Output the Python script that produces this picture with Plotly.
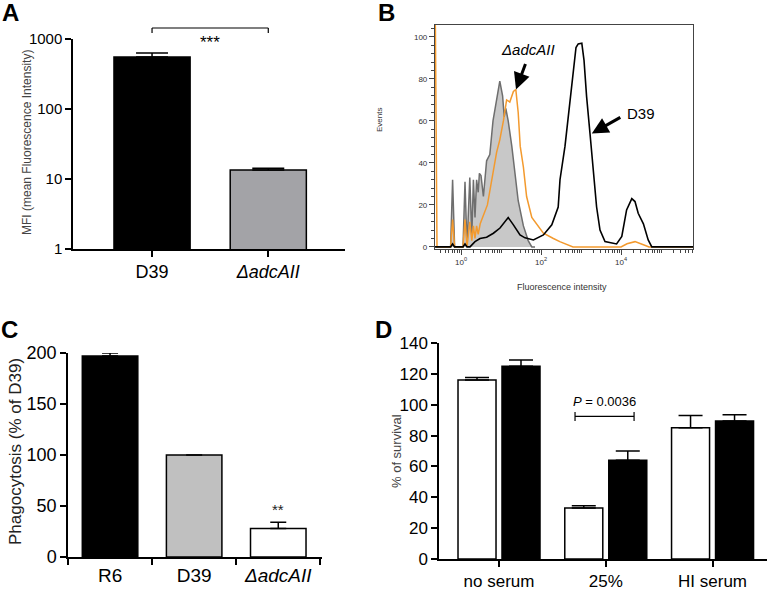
import plotly.graph_objects as go

W, H = 769, 592
FONT = "Arial, Liberation Sans, sans-serif"

# ---------------- Panel A data ----------------
a_categories = ["D39", "ΔadcAII"]
a_ticktext = ["D39", "<i>ΔadcAII</i>"]
a_values = [553, 13.4]
a_errors = [78, 0.8]
a_colors = ["#000000", "#a3a3a7"]

# ---------------- Panel B data (flow cytometry histograms) ----------------
# x in log10(fluorescence), y in events
b_ctrl_logx = [-0.62, -0.26, -0.21, -0.16, 0.05, 0.10, 0.15, 0.22, 0.27, 0.31, 0.35, 0.39, 0.43,
               0.46, 0.50, 0.56, 0.64, 0.72, 0.80, 0.87, 0.97, 1.04, 1.08, 1.12, 1.18, 1.27, 1.35,
               1.43, 1.56, 1.68, 1.77, 1.85]
b_ctrl_y = [0, 0, 32, 0, 0, 31, 0, 33, 5, 32, 14, 32, 26,
            35, 34, 24, 41, 44, 60, 68, 79, 72, 62, 66, 60, 48, 35,
            22, 10, 3, 0, 0]

b_mut_logx = [-0.65, -0.64, -0.60, -0.26, -0.21, -0.16, 0.05, 0.10, 0.15, 0.22, 0.27, 0.31, 0.35,
              0.39, 0.43, 0.48, 0.66, 0.77, 0.89, 0.97, 1.06, 1.14, 1.22, 1.31, 1.37, 1.43, 1.48,
              1.56, 1.64, 1.77, 1.89, 2.06, 2.31, 2.47, 2.80, 4.00, 4.15, 4.35, 4.56, 4.70, 5.8]
b_mut_y = [110, 104, 0, 0, 13, 0, 0, 13, 0, 12, 3, 10, 4,
           10, 6, 11, 20, 33, 45, 51, 60, 70, 69, 74, 75, 64, 48,
           38, 24, 14, 11, 6.5, 4, 2.5, 0, 0, 1.5, 2.5, 1, 0, 0]

b_d39_logx = [-0.65, -0.26, -0.21, -0.16, 0.05, 0.10, 0.15, 0.225, 0.35, 0.475, 0.64, 0.81, 0.975,
              1.10, 1.18, 1.31, 1.475, 1.60, 1.81, 2.06, 2.27, 2.43, 2.475, 2.60, 2.725, 2.81,
              2.875, 2.93, 3.02, 3.075, 3.14, 3.225, 3.31, 3.39, 3.475, 3.60, 3.89, 4.02, 4.14,
              4.27, 4.35, 4.43, 4.56, 4.68, 4.77, 5.8]
b_d39_y = [0, 0, 1.4, 0, 0, 1.4, 0, 0, 2.5, 4, 4.6, 6.5, 9,
           12, 14, 10.5, 5.7, 4.3, 3.3, 5.7, 10.5, 19, 32, 48, 68.6, 84,
           95, 96.7, 97, 89, 71.6, 54, 36.7, 19, 8, 2.5, 1.4, 5, 17.6,
           23, 21.6, 16, 11, 3.3, 0, 0]

b_xtick_exp = [0, 2, 4]
b_ytick_vals = [0, 20, 40, 60, 80, 100]

# ---------------- Panel C data ----------------
c_categories = ["R6", "D39", "ΔadcAII"]
c_ticktext = ["R6", "D39", "<i>ΔadcAII</i>"]
c_values = [197, 100, 28]
c_errors = [3, 0, 6]
c_colors = ["#000000", "#c0c0c0", "#ffffff"]

# ---------------- Panel D data ----------------
d_categories = ["no serum", "25%", "HI serum"]
d_white_values = [116, 33, 85]
d_white_errors = [1.7, 1.5, 8]
d_black_values = [125, 64, 89.5]
d_black_errors = [4, 6, 4]

fig = go.Figure()

def px_x(p):
    return p / W

def px_y(p):
    return 1 - p / H

axis_common = dict(showline=True, linecolor="black", linewidth=1.5, ticks="outside",
                   tickcolor="black", tickwidth=1.5, showgrid=False, zeroline=False,
                   automargin=False,
                   tickfont=dict(family=FONT, color="black"))

# ----- Panel A -----
fig.add_trace(go.Bar(
    x=a_categories, y=a_values, width=0.655,
    marker=dict(color=a_colors, line=dict(color="black", width=1.5)),
    error_y=dict(type="data", array=a_errors, arrayminus=[0, 0], symmetric=False,
                 color="black", thickness=1.5, width=16),
    xaxis="x", yaxis="y", showlegend=False))

# ----- Panel B -----
fig.add_trace(go.Scatter(
    x=[10 ** v for v in b_ctrl_logx], y=b_ctrl_y, mode="lines",
    line=dict(color="#6e6e6e", width=1.5), fill="tozeroy", fillcolor="#c8c8c8",
    xaxis="x2", yaxis="y2", showlegend=False))
fig.add_trace(go.Scatter(
    x=[10 ** v for v in b_mut_logx], y=b_mut_y, mode="lines",
    line=dict(color="#f39a2e", width=1.5),
    xaxis="x2", yaxis="y2", showlegend=False))
fig.add_trace(go.Scatter(
    x=[10 ** v for v in b_d39_logx], y=b_d39_y, mode="lines",
    line=dict(color="black", width=1.6),
    xaxis="x2", yaxis="y2", showlegend=False))

# ----- Panel C -----
fig.add_trace(go.Bar(
    x=c_categories, y=c_values, width=0.66,
    marker=dict(color=c_colors, line=dict(color="black", width=1.5)),
    error_y=dict(type="data", array=c_errors, arrayminus=[0, 0, 0], symmetric=False,
                 color="black", thickness=1.5, width=8),
    xaxis="x3", yaxis="y3", showlegend=False))

# ----- Panel D -----
fig.add_trace(go.Bar(
    x=d_categories, y=d_white_values, width=0.356, offset=-0.384,
    marker=dict(color="white", line=dict(color="black", width=1.5)),
    error_y=dict(type="data", array=d_white_errors, arrayminus=[0, 0, 0], symmetric=False,
                 color="black", thickness=1.5, width=12),
    xaxis="x4", yaxis="y4", showlegend=False))
fig.add_trace(go.Bar(
    x=d_categories, y=d_black_values, width=0.356, offset=0.028,
    marker=dict(color="black", line=dict(color="black", width=1.5)),
    error_y=dict(type="data", array=d_black_errors, arrayminus=[0, 0, 0], symmetric=False,
                 color="black", thickness=1.5, width=12),
    xaxis="x4", yaxis="y4", showlegend=False))

layout = dict(
    width=W, height=H, margin=dict(l=0, r=0, t=0, b=0, pad=0, autoexpand=False),
    paper_bgcolor="white", plot_bgcolor="rgba(0,0,0,0)",
    font=dict(family=FONT, color="black"),
    barmode="overlay",
)

layout["xaxis"] = dict(axis_common, domain=[px_x(73), px_x(345)], anchor="y", type="category",
                       range=[-0.68, 1.66], tickvals=a_categories, ticktext=a_ticktext,
                       ticklen=6, tickfont=dict(family=FONT, size=18, color="black"))
layout["yaxis"] = dict(axis_common, domain=[px_y(249), px_y(39)], anchor="x", type="log",
                       range=[0, 3], tickvals=[1, 10, 100, 1000],
                       ticktext=["1", "10", "100", "1000"], ticklen=6,
                       tickfont=dict(family=FONT, size=15, color="black"))

layout["xaxis2"] = dict(axis_common, domain=[px_x(435), px_x(693)], anchor="y2", type="log",
                        range=[-0.65, 5.8], linecolor="#444", linewidth=1.2, mirror=True,
                        tickvals=[10 ** e for e in b_xtick_exp],
                        ticktext=["10<sup>%d</sup>" % e for e in b_xtick_exp],
                        ticklen=5, tickcolor="#444", tickwidth=1.2,
                        minor=dict(ticks="outside", ticklen=3, tickcolor="#444", dtick="D1"),
                        tickfont=dict(family=FONT, size=8, color="#333"))
layout["yaxis2"] = dict(axis_common, domain=[px_y(249), px_y(25)], anchor="x2",
                        range=[-1, 105.7], linecolor="#444", linewidth=1.2, mirror=True,
                        tickvals=b_ytick_vals, ticklen=5, tickcolor="#444", tickwidth=1.2,
                        minor=dict(ticks="outside", ticklen=3, tickcolor="#444", dtick=4),
                        tickfont=dict(family=FONT, size=8, color="#333"))

layout["xaxis3"] = dict(axis_common, domain=[px_x(68), px_x(322)], anchor="y3", type="category",
                        range=[-0.5, 2.52], tickvals=c_categories, ticktext=c_ticktext,
                        tickson="boundaries", ticklen=6,
                        tickfont=dict(family=FONT, size=19, color="black"))
layout["yaxis3"] = dict(axis_common, domain=[px_y(557), px_y(353)], anchor="x3",
                        range=[0, 200], dtick=50, ticklen=6,
                        tickfont=dict(family=FONT, size=18, color="black"))

layout["xaxis4"] = dict(axis_common, domain=[px_x(439), px_x(767)], anchor="y4", type="category",
                        range=[-0.562, 2.51], ticklen=6,
                        tickfont=dict(family=FONT, size=17, color="black"))
layout["yaxis4"] = dict(axis_common, domain=[px_y(559), px_y(343)], anchor="x4",
                        range=[0, 140], dtick=20, ticklen=6,
                        tickfont=dict(family=FONT, size=17, color="black"))

fig.update_layout(**layout)

# Significance bracket, panel A
shape_line = dict(color="black", width=1.2)
fig.add_shape(type="line", xref="x", yref="paper", x0=0, x1=1, y0=px_y(28), y1=px_y(28), line=shape_line)
fig.add_shape(type="line", xref="x", yref="paper", x0=0, x1=0, y0=px_y(28), y1=px_y(33), line=shape_line)
fig.add_shape(type="line", xref="x", yref="paper", x0=1, x1=1, y0=px_y(28), y1=px_y(33), line=shape_line)

# P-value bracket, panel D
fig.add_shape(type="line", xref="x4", yref="y4", x0=0.712, x1=1.265, y0=92.5, y1=92.5, line=shape_line)
fig.add_shape(type="line", xref="x4", yref="paper", x0=0.712, x1=0.712, y0=px_y(412), y1=px_y(421), line=shape_line)
fig.add_shape(type="line", xref="x4", yref="paper", x0=1.265, x1=1.265, y0=px_y(412), y1=px_y(421), line=shape_line)

ann = []
def text(x, y, s, size, color="black", angle=0, xanchor="center", bold=False):
    ann.append(dict(x=px_x(x), y=px_y(y), xref="paper", yref="paper", text=("<b>%s</b>" % s) if bold else s,
                    showarrow=False, textangle=angle, xanchor=xanchor, yanchor="middle",
                    font=dict(family=FONT, size=size, color=color)))

# Panel letters
text(10, 13, "A", 24, bold=True)
text(386, 13, "B", 24, bold=True)
text(9, 329, "C", 24, bold=True)
text(383, 329, "D", 24, bold=True)

# Axis titles
text(27, 143, "MFI (mean Fluorescence Intensity)", 12, color="#444", angle=-90)
text(379, 120, "Events", 8, color="#333", angle=-90)
text(562, 287, "Fluorescence intensity", 9, color="#333")
text(15, 452, "Phagocytosis (% of D39)", 17, color="#222", angle=-90)
text(396, 451, "% of survival", 13, color="#444", angle=-90)

# Significance marks
ann.append(dict(x=0.5, y=px_y(42), xref="x", yref="paper", text="***", showarrow=False,
                yanchor="middle", font=dict(family=FONT, size=17, color="black")))
ann.append(dict(x=2, y=px_y(509), xref="x3", yref="paper", text="**", showarrow=False,
                yanchor="middle", font=dict(family=FONT, size=15, color="#222")))
ann.append(dict(x=0.99, y=px_y(401), xref="x4", yref="paper", text="<i>P</i> = 0.0036", showarrow=False,
                yanchor="middle", font=dict(family=FONT, size=13, color="black")))

# Panel B labels and arrows
text(528, 49, "<i>ΔadcAII</i>", 15)
text(625, 113, "D39", 15, xanchor="left")
ann.append(dict(x=1.375, y=75, xref="x2", yref="y2", text="", showarrow=True,
                ax=10, ay=-27, arrowhead=2, arrowsize=1.1, arrowwidth=3, arrowcolor="black"))
ann.append(dict(x=3.27, y=54, xref="x2", yref="y2", text="", showarrow=True,
                ax=30, ay=-17, arrowhead=2, arrowsize=1.1, arrowwidth=3, arrowcolor="black"))

fig.update_layout(annotations=ann)

fig.write_html("out.html", config={"displayModeBar": False},
               post_script="document.body.style.margin='0px';")
